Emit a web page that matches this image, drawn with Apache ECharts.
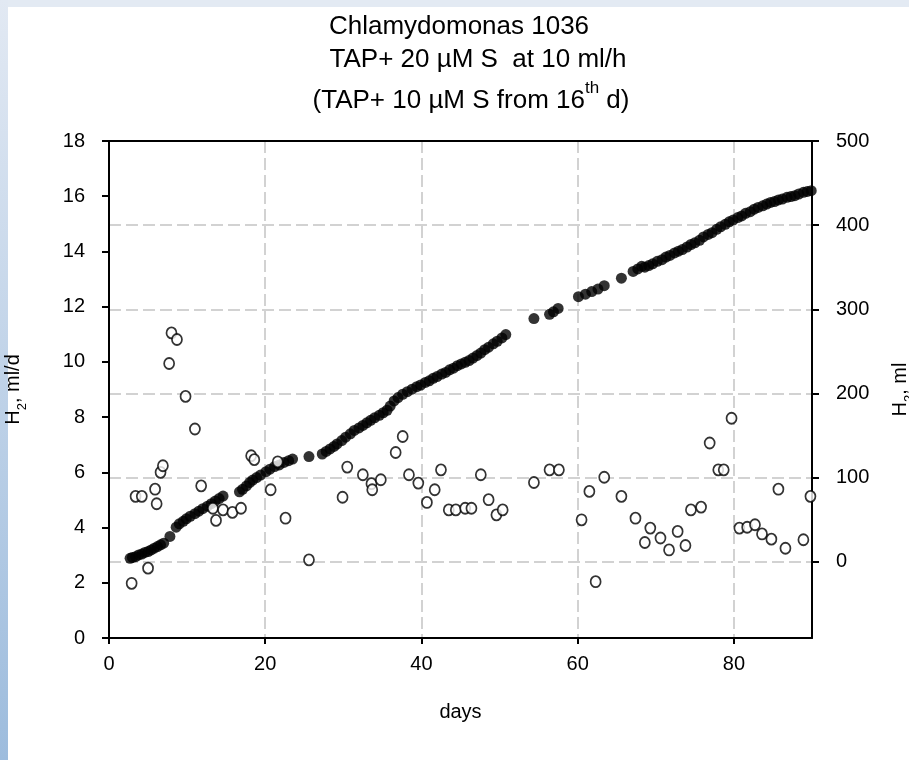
<!DOCTYPE html>
<html><head><meta charset="utf-8">
<script src="https://cdn.jsdelivr.net/npm/echarts@6/dist/echarts.min.js"></script>
<style>html,body{margin:0;padding:0;background:#fff}#c{width:909px;height:760px}</style>
</head><body><div id="c"></div>
<script>
// ---- data ----
const titleLine1 = 'Chlamydomonas 1036';
const titleLine2 = 'TAP+ 20 \u00b5M S  at 10 ml/h';
const titleLine3 = ['(TAP+ 10 \u00b5M S from 16', 'th', ' d)'];
const xAxisName = 'days';
const leftAxisName = ['H', '2', ', ml/d'];
const rightAxisName = ['H', '2', ', ml'];
const xTickValues = [0, 20, 40, 60, 80];
const rightTickValues = [0, 100, 200, 300, 400, 500];

// cumulative H2 (ml), right axis
const cumDays = [2.7,3.0,3.4,3.8,4.2,4.6,5.0,5.4,5.8,6.2,6.6,7.0,
  7.8,
  8.6,9.0,9.5,9.9,10.4,11.0,11.5,12.0,12.6,13.1,13.6,14.1,14.6,
  16.7,17.1,17.6,18.0,18.4,18.9,19.4,20.1,20.6,21.2,21.8,22.4,23.0,23.5,
  25.6,
  27.3,27.8,28.3,28.8,29.2,29.8,30.3,30.9,31.4,32.0,32.5,33.0,33.5,34.0,34.6,35.1,35.6,36.0,36.5,37.0,37.6,38.2,38.8,39.4,39.9,40.5,41.0,41.5,42.0,42.6,43.1,43.6,44.1,44.6,45.1,45.6,46.1,46.6,47.1,47.6,48.1,48.6,49.2,49.7,50.3,50.8,
  54.4,
  56.4,56.9,57.5,
  60.1,61.0,61.8,62.6,63.4,
  65.6,
  67.1,67.7,68.2,
  68.6,69.1,69.6,70.2,70.8,71.3,71.8,72.4,72.9,73.4,74.0,74.5,75.0,75.6,76.1,76.7,77.2,77.8,78.3,78.9,79.4,79.9,80.5,81.0,81.5,82.1,82.6,83.1,83.7,84.2,84.7,85.2,85.7,86.2,86.8,87.3,87.8,88.3,88.9,89.4,89.9];
const cumValues = [4,5,6,8,9,11,12,14,16,18,20,22,
  30,
  41,45,48,51,54,57,60,63,66,69,72,75,78,
  83,86,90,94,97,100,103,107,110,113,115,118,120,122,
  125,
  128,131,134,137,140,144,148,152,156,159,162,165,168,171,174,177,180,185,191,195,199,202,205,208,210,213,215,218,220,223,225,228,230,233,235,237,239,242,245,248,252,255,259,262,266,270,
  289,
  294,297,301,
  315,318,321,324,328,
  337,
  345,348,351,
  350,352,354,357,359,362,364,367,369,371,374,377,379,382,386,389,391,395,398,401,404,406,409,411,414,416,419,421,423,425,427,428,430,431,433,434,435,437,439,440,441];

// daily H2 (ml/d), left axis
const dailyDays = [2.9,3.4,4.2,5.0,5.9,6.1,6.6,6.9,7.7,8.0,8.7,9.8,11.0,11.8,13.3,13.7,14.6,15.8,16.9,18.2,18.6,20.7,21.6,22.6,25.6,
  29.9,30.5,32.5,33.6,33.7,34.8,36.7,37.6,38.4,39.6,40.7,41.7,42.5,43.5,44.4,45.6,46.4,47.6,48.6,49.6,50.4,
  54.4,56.4,57.6,60.5,61.5,62.3,63.4,65.6,67.4,68.6,69.3,70.6,71.7,72.8,73.8,74.5,75.8,76.9,78.0,78.7,79.7,
  80.7,81.7,82.7,83.6,84.8,85.7,86.6,88.9,89.8];
const dailyValues = [1.98,5.13,5.13,2.53,5.39,4.86,6.0,6.24,9.94,11.05,10.81,8.75,7.57,5.51,4.70,4.26,4.64,4.55,4.70,6.60,6.46,5.37,6.38,4.34,2.83,
  5.10,6.19,5.91,5.59,5.37,5.73,6.72,7.30,5.91,5.61,4.91,5.37,6.09,4.64,4.64,4.70,4.70,5.91,5.01,4.46,4.64,
  5.63,6.09,6.09,4.28,5.31,2.04,5.82,5.13,4.34,3.46,3.98,3.62,3.19,3.86,3.35,4.64,4.74,7.06,6.09,6.09,7.96,
  3.98,4.01,4.10,3.77,3.58,5.39,3.25,3.56,5.13];

// ---- chart ----
const FONT = "'Liberation Sans', Arial, sans-serif";
const cumData = cumDays.map((d, i) => [d, cumValues[i]]);
const dailyData = dailyDays.map((d, i) => [d, dailyValues[i]]);
const gridLine = { show: true, lineStyle: { color: '#c4c4c4', width: 1.5, type: [12, 5] } };
const blackLine = { color: '#000', width: 2 };
const labelStyle = { color: '#000', fontSize: 20, fontFamily: FONT };
const nameRich = {
  n: { color: '#000', fontSize: 20, fontFamily: FONT, verticalAlign: 'top', lineHeight: 26 },
  b: { color: '#000', fontSize: 13, fontFamily: FONT, verticalAlign: 'bottom', lineHeight: 26 }
};

const chart = echarts.init(document.getElementById('c'), null, { renderer: 'canvas' });
chart.setOption({
  animation: false,
  backgroundColor: '#fff',
  graphic: [
    { type: 'rect', left: 0, top: 0, z: -10, shape: { width: 909, height: 7 }, style: { fill: '#e3eaf3' } },
    { type: 'rect', left: 0, top: 0, z: -10, shape: { width: 8, height: 760 },
      style: { fill: new echarts.graphic.LinearGradient(0, 0, 0, 1, [
        { offset: 0, color: '#e2e9f3' }, { offset: 1, color: '#9dbcdd' }]) } },
    { type: 'text', x: 459, y: 27, style: { text: titleLine1, font: '26px ' + FONT, fill: '#000', align: 'center', verticalAlign: 'middle' } },
    { type: 'text', x: 478, y: 60, style: { text: titleLine2, font: '26px ' + FONT, fill: '#000', align: 'center', verticalAlign: 'middle' } },
    { type: 'text', x: 471, y: 97, style: {
        text: '{m|' + titleLine3[0] + '}{s|' + titleLine3[1] + '}{m|' + titleLine3[2] + '}',
        align: 'center', verticalAlign: 'middle', fill: '#000',
        rich: {
          m: { fontSize: 26, fontFamily: FONT, color: '#000', lineHeight: 34, verticalAlign: 'bottom' },
          s: { fontSize: 17, fontFamily: FONT, color: '#000', lineHeight: 34, verticalAlign: 'top' }
        } } }
  ],
  grid: { left: 109, right: 97, top: 141, bottom: 122, show: false, outerBoundsMode: 'none', containLabel: false },
  xAxis: [
    {
      type: 'value', min: 0, max: 90, position: 'bottom', z: 0,
      name: xAxisName, nameLocation: 'middle', nameGap: 64,
      nameTextStyle: { color: '#000', fontSize: 20, fontFamily: FONT },
      axisLine: { show: true, onZero: false, lineStyle: blackLine },
      axisTick: { show: true, length: 6, lineStyle: blackLine, customValues: xTickValues },
      axisLabel: Object.assign({ margin: 16, customValues: xTickValues }, labelStyle),
      splitLine: gridLine
    },
    {
      type: 'value', min: 0, max: 90, position: 'top', z: 10,
      axisLine: { show: true, onZero: false, lineStyle: blackLine },
      axisTick: { show: false }, axisLabel: { show: false }, splitLine: { show: false }
    }
  ],
  yAxis: [
    {
      type: 'value', position: 'left', min: 0, max: 18, interval: 2, z: 1,
      name: '{n|' + leftAxisName[0] + '}{b|' + leftAxisName[1] + '}{n|' + leftAxisName[2] + '}',
      nameLocation: 'middle', nameGap: 80, nameRotate: 90,
      nameTextStyle: { rich: nameRich },
      axisLine: { show: true, onZero: false, lineStyle: blackLine },
      axisTick: { show: true, length: 7, lineStyle: blackLine },
      axisLabel: Object.assign({ margin: 24 }, labelStyle),
      splitLine: { show: false }
    },
    {
      type: 'value', position: 'right', min: -90.7, max: 500, z: 0,
      name: '{n|' + rightAxisName[0] + '}{b|' + rightAxisName[1] + '}{n|' + rightAxisName[2] + '}',
      nameLocation: 'middle', nameGap: 78, nameRotate: 90,
      nameTextStyle: { rich: nameRich },
      axisLine: { show: true, onZero: false, lineStyle: blackLine },
      axisTick: { show: true, length: 7, lineStyle: blackLine, customValues: rightTickValues },
      axisLabel: Object.assign({ margin: 24, customValues: rightTickValues }, labelStyle),
      splitLine: gridLine
    }
  ],
  series: [
    {
      type: 'scatter', name: 'cumulative', yAxisIndex: 1, data: cumData,
      symbol: 'circle', symbolSize: 11, z: 3,
      itemStyle: { color: '#000' }
    },
    {
      type: 'scatter', name: 'daily', yAxisIndex: 0, data: dailyData,
      symbol: 'circle', symbolSize: [10, 11], z: 4,
      itemStyle: { color: '#fff', borderColor: '#000', borderWidth: 1.8 }
    }
  ]
});
</script>
</body></html>
